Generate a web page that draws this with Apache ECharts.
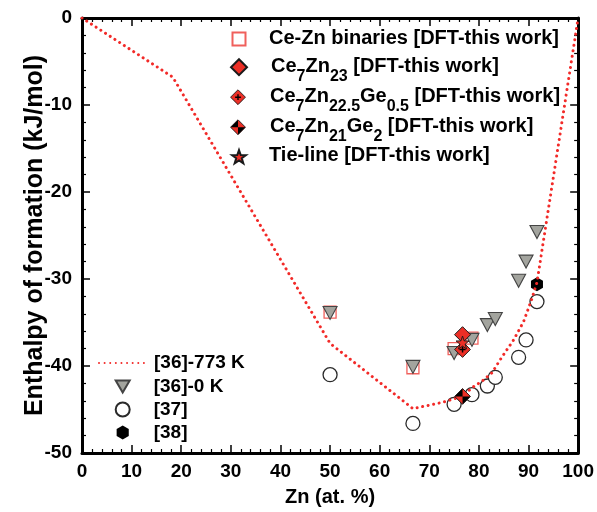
<!DOCTYPE html>
<html>
<head>
<meta charset="utf-8">
<script src="https://cdn.jsdelivr.net/npm/echarts@6/dist/echarts.min.js"></script>
<style>
  html, body { margin: 0; padding: 0; background: #fff; }
  #chart { width: 597px; height: 512px; }
</style>
</head>
<body>
<div id="chart"></div>
<script>
// Axis ranges (Zn at.% / kJ per mol)
const xRange = [0, 100, 10];
const yRange = [-50, 0, 10];

// [36]-773 K calculated curve
const curve773 = [
  [0, 0], [18.3, -6.8], [50, -37.4], [66.7, -44.9], [72.5, -44.2], [76.7, -43.5],
  [78.6, -42.5], [80.5, -41.8], [82.6, -40.8], [84.6, -39.0], [87, -37.0],
  [89, -34.9], [90.6, -32.4], [91.7, -30.4], [100, 0]
];

// [36]-0 K
const ref36x = [50, 66.7, 75, 78.6, 81.7, 83.3, 88, 89.5, 91.7];
const ref36y = [-33.9, -40.1, -38.5, -37.0, -35.3, -34.6, -30.2, -28.0, -24.6];

// [37]
const ref37x = [50, 66.7, 75, 78.6, 81.7, 83.3, 88, 89.5, 91.7];
const ref37y = [-41.0, -46.6, -44.4, -43.3, -42.3, -41.3, -39.0, -37.0, -32.6];

// [38]
const ref38x = [91.7];
const ref38y = [-30.6];

// Ce-Zn binaries, DFT
const binX = [50, 66.7, 75, 78.6];
const binY = [-33.8, -40.2, -38.0, -36.8];

// Ce7Zn23-based phases, DFT
const ce7zn23 = [[76.7, -36.4]];
const ce7zn225ge05 = [[76.7, -38.1]];
const ce7zn21ge2 = [[76.7, -43.5]];
const tieLine = [[76.7, -37.3]];

const zip = (xs, ys) => xs.map((x, i) => [x, ys[i]]);

const RED = '#ec2f26';
const FONT = '"Liberation Sans", Arial, sans-serif';

function svgSymbol(body) {
  const svg = "<svg xmlns='http://www.w3.org/2000/svg' width='40' height='40' viewBox='-10 -10 20 20'>" + body + "</svg>";
  return 'image://data:image/svg+xml;charset=utf-8,' + encodeURIComponent(svg);
}
const diamondPath = "M0 -9.3L9.3 0L0 9.3L-9.3 0Z";
const plusDiamond = svgSymbol(
  "<path d='" + diamondPath + "' fill='" + RED + "' stroke='#1a1a1a' stroke-width='1.1'/>" +
  "<path d='M0 -3.6V3.6M-3.6 0H3.6' stroke='#000' stroke-width='1.7'/>"
);
const checkerDiamond = svgSymbol(
  "<path d='" + diamondPath + "' fill='" + RED + "'/>" +
  "<path d='M0 0L0 -9.3L-9.3 0Z M0 0L0 9.3L9.3 0Z' fill='#000'/>" +
  "<path d='" + diamondPath + "' fill='none' stroke='#1a1a1a' stroke-width='1.1'/>"
);
const starPath = 'path://M0,-10 L2.35,-3.24 L9.51,-3.09 L3.8,1.24 L5.88,8.09 L0,4 L-5.88,8.09 L-3.8,1.24 L-9.51,-3.09 L-2.35,-3.24 Z';
const hexPath = 'path://M0,-10 L8.66,-5 L8.66,5 L0,10 L-8.66,5 L-8.66,-5 Z';
const triDownPath = 'path://M-7,-6 L7,-6 L0,6 Z';

const names = {
  bin: 'Ce-Zn binaries [DFT-this work]',
  p23: 'Ce7Zn23 [DFT-this work]',
  p225: 'Ce7Zn22.5Ge0.5 [DFT-this work]',
  p21: 'Ce7Zn21Ge2 [DFT-this work]',
  tie: 'Tie-line [DFT-this work]',
  c773: '[36]-773 K',
  c0: '[36]-0 K',
  r37: '[37]',
  r38: '[38]'
};
const richLabels = {};
richLabels[names.bin] = '{b|Ce-Zn binaries [DFT-this work]}';
richLabels[names.p23] = '{b|Ce}{s|7}{b|Zn}{s|23}{b| [DFT-this work]}';
richLabels[names.p225] = '{b|Ce}{s|7}{b|Zn}{s|22.5}{b|Ge}{s|0.5}{b| [DFT-this work]}';
richLabels[names.p21] = '{b|Ce}{s|7}{b|Zn}{s|21}{b|Ge}{s|2}{b| [DFT-this work]}';
richLabels[names.tie] = '{b|Tie-line [DFT-this work]}';

const axisCommon = {
  axisLine: { show: true, onZero: false, lineStyle: { color: '#000', width: 3 } },
  axisTick: { show: true, inside: true, length: 8, lineStyle: { color: '#000', width: 1.5 } },
  minorTick: { show: true, splitNumber: 5, length: 4, lineStyle: { color: '#000', width: 1.2 } },
  splitLine: { show: false },
  minorSplitLine: { show: false }
};
const labelStyle = { color: '#000', fontSize: 19, fontWeight: 'bold', fontFamily: FONT };
const legendText = { color: '#000', fontFamily: FONT, fontWeight: 'bold', fontSize: 19, lineHeight: 22 };
const richBase = { fontSize: 20, fontWeight: 'bold', fontFamily: FONT, color: '#000', lineHeight: 22, verticalAlign: 'top' };
const richSub = { fontSize: 16, fontWeight: 'bold', fontFamily: FONT, color: '#000', lineHeight: 16, padding: [12, 0, 0, 0], verticalAlign: 'top' };

// One single-entry legend per DFT item so each icon gets its own size and row
function dftLegend(name, top, iconSize, textShift) {
  return {
    orient: 'vertical', left: 238 - iconSize / 2, top: top, padding: 0,
    itemWidth: iconSize, itemHeight: iconSize,
    data: [name],
    formatter: (n) => richLabels[n],
    textStyle: {
      color: '#000', fontFamily: FONT, fontWeight: 'bold', padding: [0, 0, 0, 25 - iconSize / 2 + textShift],
      rich: { b: richBase, s: richSub }
    }
  };
}

const chart = echarts.init(document.getElementById('chart'), null, { renderer: 'canvas' });
chart.setOption({
  backgroundColor: '#fff',
  animation: false,
  grid: { left: 82, top: 18, width: 500, height: 438, containLabel: false },
  xAxis: [
    Object.assign({
      type: 'value', min: xRange[0], max: xRange[1], interval: xRange[2], position: 'bottom',
      axisLabel: Object.assign({ margin: 9 }, labelStyle),
      name: 'Zn (at. %)', nameLocation: 'middle', nameGap: 34,
      nameTextStyle: { color: '#000', fontSize: 20, fontWeight: 'bold', fontFamily: FONT }
    }, axisCommon),
    Object.assign({
      type: 'value', min: xRange[0], max: xRange[1], interval: xRange[2], position: 'top',
      axisLabel: { show: false }
    }, axisCommon)
  ],
  yAxis: [
    Object.assign({
      type: 'value', min: yRange[0], max: yRange[1], interval: yRange[2], position: 'left',
      axisLabel: Object.assign({ margin: 10 }, labelStyle),
      name: 'Enthalpy of formation (kJ/mol)', nameLocation: 'middle', nameGap: 34,
      nameMoveOverlap: false,
      nameTextStyle: { color: '#000', fontSize: 25, fontWeight: 'bold', fontFamily: FONT }
    }, axisCommon),
    Object.assign({
      type: 'value', min: yRange[0], max: yRange[1], interval: yRange[2], position: 'right',
      axisLabel: { show: false }
    }, axisCommon)
  ],
  legend: [
    dftLegend(names.bin, 28, 13, 0),
    dftLegend(names.p23, 56.2, 16, 2),
    dftLegend(names.p225, 86.2, 16, 2),
    dftLegend(names.p21, 116.2, 16, 2),
    dftLegend(names.tie, 145.7, 14, 0),
    {
      orient: 'vertical', left: 98, top: 352, padding: 0,
      itemWidth: 47, itemHeight: 14,
      itemStyle: { opacity: 0 },
      data: [names.c773],
      textStyle: Object.assign({ padding: [0, 0, 0, 3] }, legendText)
    },
    {
      orient: 'vertical', left: 114.7, top: 375.5, padding: 0, itemGap: 1,
      itemWidth: 14, itemHeight: 14,
      data: [names.c0, names.r37, names.r38],
      textStyle: Object.assign({ padding: [0, 0, 0, 19] }, legendText)
    }
  ],
  series: [
    {
      name: names.bin, type: 'scatter', z: 2, symbol: 'rect', symbolSize: 12,
      itemStyle: { color: 'rgba(255,255,255,0)', borderColor: '#f0605c', borderWidth: 1.3, opacity: 1 },
      data: zip(binX, binY)
    },
    {
      name: names.c0, type: 'scatter', z: 3, symbol: triDownPath, symbolSize: [14, 13],
      itemStyle: { color: '#a3a49e', borderColor: '#444', borderWidth: 1.1, opacity: 1 },
      data: zip(ref36x, ref36y)
    },
    {
      name: names.r37, type: 'scatter', z: 3, symbol: 'circle', symbolSize: 14,
      itemStyle: { color: '#fff', borderColor: '#2a2a2a', borderWidth: 1.3, opacity: 1 },
      data: zip(ref37x, ref37y)
    },
    {
      name: names.r38, type: 'scatter', z: 3, symbol: hexPath, symbolSize: [12, 14],
      itemStyle: { color: '#000', opacity: 1 },
      data: zip(ref38x, ref38y)
    },
    {
      name: names.c773, type: 'line', z: 4, symbol: 'none', showSymbol: false,
      itemStyle: { color: '#f22a28' },
      lineStyle: { color: '#f22a28', width: 3, type: [0.01, 5.6], cap: 'round' },
      data: curve773
    },
    {
      name: names.p23, type: 'scatter', z: 5, symbol: 'diamond', symbolSize: 16,
      itemStyle: { color: RED, borderColor: '#1a1a1a', borderWidth: 1, opacity: 1 },
      data: ce7zn23
    },
    {
      name: names.p225, type: 'scatter', z: 5, symbol: plusDiamond, symbolSize: 17,
      itemStyle: { opacity: 1 },
      data: ce7zn225ge05
    },
    {
      name: names.p21, type: 'scatter', z: 5, symbol: checkerDiamond, symbolSize: 17,
      itemStyle: { opacity: 1 },
      data: ce7zn21ge2
    },
    {
      name: names.tie, type: 'scatter', z: 6, symbol: starPath, symbolSize: 13,
      itemStyle: { color: RED, borderColor: '#1a1a1a', borderWidth: 0.9, opacity: 1 },
      data: tieLine
    }
  ]
});
</script>
</body>
</html>
